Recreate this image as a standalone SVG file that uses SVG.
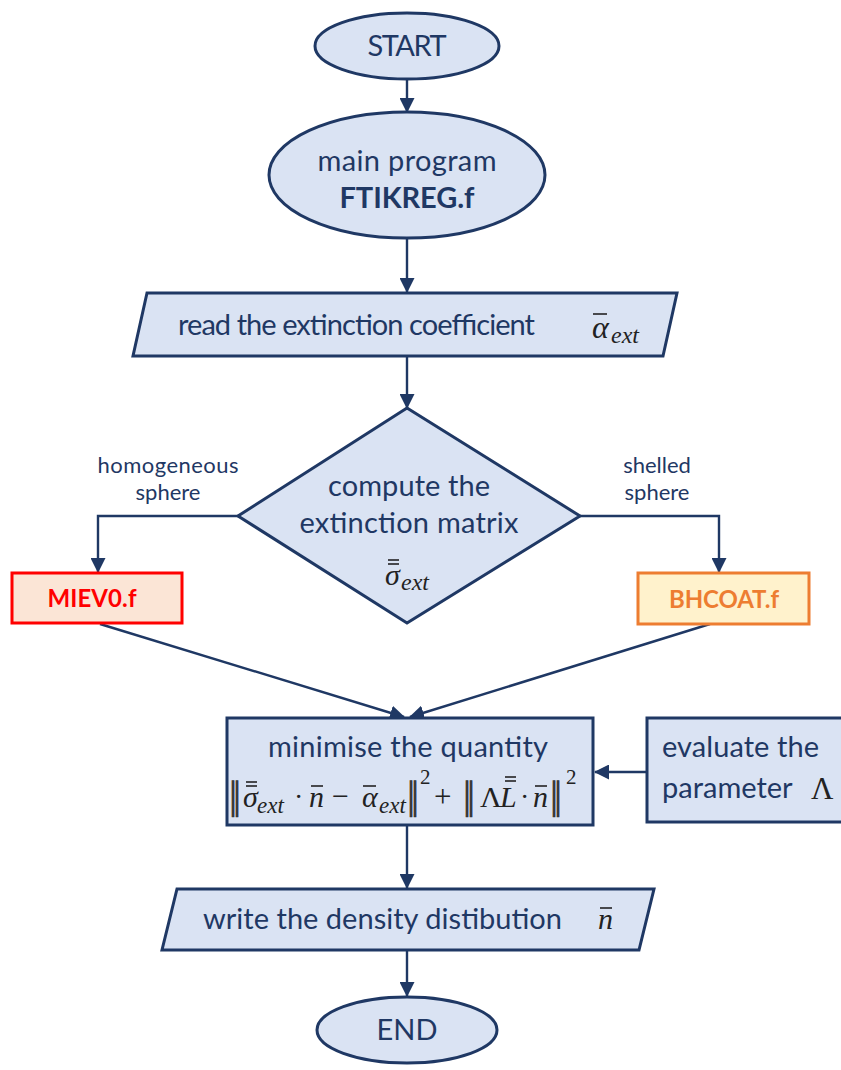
<svg xmlns="http://www.w3.org/2000/svg" width="841" height="1070" viewBox="0 0 841 1070">
<defs>
<marker id="ah" markerUnits="userSpaceOnUse" markerWidth="15" markerHeight="15" viewBox="0 0 15 15" refX="14" refY="7.5" orient="auto">
<path d="M0,0 L15,7.5 L0,15 Z" fill="#1F3864"/>
</marker>
<style>
.n{fill:#DAE3F3;stroke:#1F3864;stroke-width:3}
.t{font-family:Lato,"Open Sans",sans-serif;fill:#1F3864;font-size:29px}
.s{font-family:Lato,"Open Sans",sans-serif;fill:#1F3864;font-size:22px}
.m{font-family:"Liberation Serif",serif;font-style:italic;fill:#222;}
.r{font-family:"Liberation Serif",serif;fill:#222;}
.nb{font-family:"Liberation Serif",serif;fill:#333;stroke:#333;stroke-width:0.6;font-size:40px;letter-spacing:-4px}
.c{fill:none;stroke:#1F3864;stroke-width:2.4}
.bar{stroke:#222;stroke-width:1.6}
</style>
</defs>
<g id="connectors">
<line class="c" x1="407" y1="79" x2="407" y2="112" marker-end="url(#ah)"/>
<line class="c" x1="407" y1="238" x2="407" y2="292" marker-end="url(#ah)"/>
<line class="c" x1="407" y1="356" x2="407" y2="408" marker-end="url(#ah)"/>
<polyline class="c" points="238,516 98,516 98,572" marker-end="url(#ah)"/>
<polyline class="c" points="580,516 719,516 719,572" marker-end="url(#ah)"/>
<line class="c" x1="100" y1="624" x2="404" y2="717" marker-end="url(#ah)"/>
<line class="c" x1="710" y1="624" x2="410" y2="717" marker-end="url(#ah)"/>
<line class="c" x1="647" y1="772" x2="595" y2="772" marker-end="url(#ah)"/>
<line class="c" x1="407" y1="826" x2="407" y2="888" marker-end="url(#ah)"/>
<line class="c" x1="407" y1="950" x2="407" y2="996" marker-end="url(#ah)"/>
</g>
<g id="start">
<ellipse class="n" cx="407" cy="46" rx="92" ry="33"/>
<text class="t" x="407" y="56" text-anchor="middle" textLength="79">START</text>
</g>
<g id="main">
<ellipse class="n" cx="407" cy="175" rx="138" ry="63"/>
<text class="t" x="407" y="171" text-anchor="middle" textLength="179">main program</text>
<text class="t" x="407" y="208" text-anchor="middle" font-weight="bold" textLength="135">FTIKREG.f</text>
</g>
<g id="read">
<polygon class="n" points="147,293 677,293 663,356 133,356"/>
<text class="t" x="178" y="335" textLength="357">read the extinction coefficient</text>
<text class="m" x="592" y="338" font-size="32">α</text>
<line class="bar" x1="593" y1="314" x2="607" y2="314"/>
<text class="m" x="611" y="343" font-size="24">ext</text>
</g>
<g id="compute">
<polygon class="n" points="407,408 580,516 407,623 238,516"/>
<text class="t" x="409" y="496" text-anchor="middle" textLength="162">compute the</text>
<text class="t" x="409" y="533" text-anchor="middle" textLength="219">extinction matrix</text>
<text class="m" x="385" y="585" font-size="30">σ</text>
<line class="bar" x1="388" y1="560" x2="399" y2="560"/>
<line class="bar" x1="388" y1="564" x2="399" y2="564"/>
<text class="m" x="401" y="590" font-size="24">ext</text>
</g>
<g id="labels">
<text class="s" x="168" y="473" text-anchor="middle" textLength="141">homogeneous</text>
<text class="s" x="168" y="500" text-anchor="middle">sphere</text>
<text class="s" x="657" y="473" text-anchor="middle">shelled</text>
<text class="s" x="657" y="500" text-anchor="middle">sphere</text>
</g>
<g id="miev">
<rect x="12" y="573" width="170" height="50" fill="#FBE5D6" stroke="#FF0000" stroke-width="3"/>
<text x="92" y="607" text-anchor="middle" font-family="Lato,'Open Sans',sans-serif" font-size="24" font-weight="bold" fill="#FF0000" textLength="89">MIEV0.f</text>
</g>
<g id="bhcoat">
<rect x="638" y="573" width="171" height="51" fill="#FFF2CC" stroke="#ED7D31" stroke-width="3"/>
<text x="724" y="608" text-anchor="middle" font-family="Lato,'Open Sans',sans-serif" font-size="24" font-weight="bold" fill="#ED7D31" textLength="110">BHCOAT.f</text>
</g>
<g id="minimise">
<rect class="n" x="227" y="718" width="366" height="107"/>
<text class="t" x="408" y="757" text-anchor="middle" textLength="280">minimise the quantity</text>
<text class="nb" x="229" y="808">||</text>
<text class="m" x="243" y="807" font-size="30">σ</text>
<line class="bar" x1="246" y1="782" x2="257" y2="782"/>
<line class="bar" x1="246" y1="786" x2="257" y2="786"/>
<text class="m" x="257" y="813" font-size="23">ext</text>
<text class="r" x="294" y="806" font-size="28">·</text>
<text class="m" x="309" y="807" font-size="30">n</text>
<line class="bar" x1="311" y1="786" x2="323" y2="786"/>
<text class="r" x="332" y="806" font-size="30">−</text>
<text class="m" x="362" y="807" font-size="30">α</text>
<line class="bar" x1="363" y1="786" x2="376" y2="786"/>
<text class="m" x="379" y="813" font-size="23">ext</text>
<text class="nb" x="407" y="808">||</text>
<text class="r" x="420" y="784" font-size="21">2</text>
<text class="r" x="434" y="807" font-size="31">+</text>
<text class="nb" x="463" y="808">||</text>
<text class="r" x="480" y="807" font-size="30">Λ</text>
<text class="m" x="500" y="807" font-size="30">L</text>
<line class="bar" x1="505" y1="777" x2="516" y2="777"/>
<line class="bar" x1="505" y1="781" x2="516" y2="781"/>
<text class="r" x="520" y="806" font-size="28">·</text>
<text class="m" x="533" y="807" font-size="30">n</text>
<line class="bar" x1="535" y1="786" x2="547" y2="786"/>
<text class="nb" x="550" y="808">||</text>
<text class="r" x="566" y="784" font-size="21">2</text>
</g>
<g id="evaluate">
<rect class="n" x="647" y="718" width="200" height="104"/>
<text class="t" x="662" y="757" textLength="157">evaluate the</text>
<text class="t" x="662" y="798">parameter</text>
<text class="r" x="811" y="799" font-size="31">Λ</text>
</g>
<g id="write">
<polygon class="n" points="177,889 654,889 639,950 162,950"/>
<text class="t" x="203" y="929" textLength="359">write the density distibution</text>
<text class="m" x="598" y="929" font-size="30">n</text>
<line class="bar" x1="600" y1="908" x2="612" y2="908"/>
</g>
<g id="end">
<ellipse class="n" cx="407" cy="1030" rx="90" ry="33"/>
<text class="t" x="407" y="1040" text-anchor="middle">END</text>
</g>
</svg>
